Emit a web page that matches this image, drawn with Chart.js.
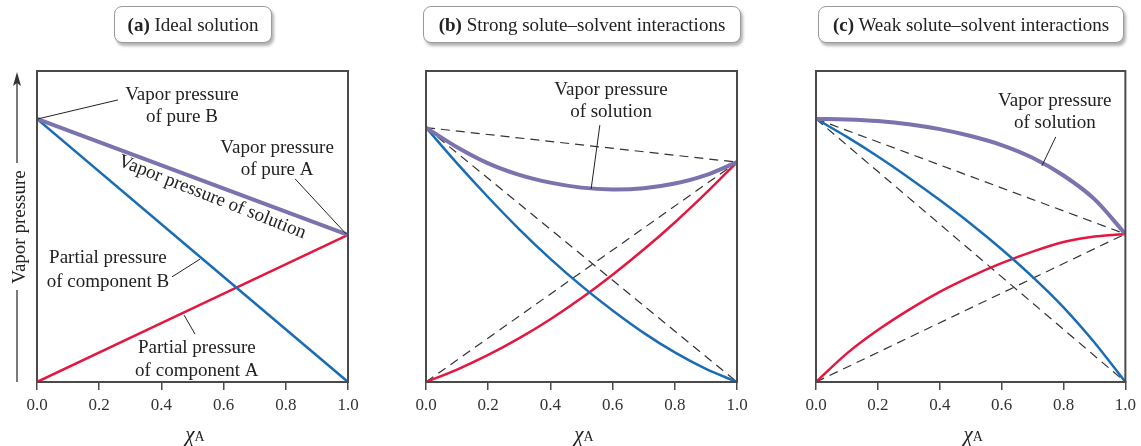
<!DOCTYPE html>
<html>
<head>
<meta charset="utf-8">
<script src="https://cdn.jsdelivr.net/npm/chart.js@4.4.1/dist/chart.umd.min.js"></script>
<style>
  html, body { margin: 0; padding: 0; background: #fff; }
  #wrap { position: relative; width: 1141px; height: 446px; overflow: hidden; }
  .panel { position: absolute; top: 0; height: 446px; }
  .titel {
    position: absolute; top: 6px; height: 37px; line-height: 36px;
    border: 1px solid #9a9a9a; border-radius: 8px; background: #fff;
    box-shadow: 2px 3px 3px rgba(0,0,0,0.3);
    font-family: "Liberation Serif", serif; font-size: 19px; color: #222;
    text-align: center; box-sizing: border-box; white-space: nowrap;
  }
</style>
</head>
<body>
<div id="wrap">
  <div class="panel" style="left:0;width:380px"><canvas id="diagramA"></canvas></div>
  <div class="panel" style="left:390px;width:380px"><canvas id="diagramB"></canvas></div>
  <div class="panel" style="left:770px;width:371px"><canvas id="diagramC"></canvas></div>
  <div class="titel" style="left:114px;width:158px"><b>(a)</b> Ideal solution</div>
  <div class="titel" style="left:423px;width:318px"><b>(b)</b> Strong solute–solvent interactions</div>
  <div class="titel" style="left:818px;width:306px"><b>(c)</b> Weak solute–solvent interactions</div>
</div>
<script>
// Molbråk för A (x-axeln)
const molbrak = [0, 0.1, 0.2, 0.3, 0.4, 0.5, 0.6, 0.7, 0.8, 0.9, 1.0];
const andpunkter = [0, 1];
const xTicks = ['0.0', '0.2', '0.4', '0.6', '0.8', '1.0'];

// (a) ideal lösning - raka linjer
const idealTotal = [0.846, 0.473];
const idealB = [0.846, 0];
const idealA = [0, 0.473];

// (b) starka interaktioner
const starkTotal = [0.818, 0.755, 0.703, 0.666, 0.641, 0.625, 0.619, 0.623, 0.638, 0.665, 0.707];
const starkB = [0.818, 0.703, 0.594, 0.491, 0.396, 0.309, 0.230, 0.158, 0.095, 0.042, 0];
const starkA = [0, 0.04, 0.087, 0.141, 0.202, 0.270, 0.345, 0.426, 0.513, 0.607, 0.707];
const starkIdealTotal = [0.818, 0.707];
const starkIdealB = [0.818, 0];
const starkIdealA = [0, 0.707];

// (c) svaga interaktioner
const svagTotal = [0.846, 0.844, 0.839, 0.829, 0.813, 0.791, 0.762, 0.721, 0.664, 0.588, 0.476];
const svagB = [0.846, 0.788, 0.725, 0.657, 0.585, 0.509, 0.427, 0.338, 0.240, 0.127, 0];
const svagA = [0, 0.092, 0.167, 0.232, 0.29, 0.339, 0.382, 0.419, 0.450, 0.468, 0.476];
const svagIdealTotal = [0.846, 0.476];
const svagIdealB = [0.846, 0];
const svagIdealA = [0, 0.476];

const LILA = '#7b72ae';
const BLA = '#1b6db3';
const ROD = '#e3173f';
const RAM = '#4a4a4a';
const SERIF = '"Liberation Serif", "DejaVu Serif", serif';

function punkter(xs, ys) {
  return xs.map((x, i) => ({ x: x, y: ys[i] }));
}

function linje(xs, ys, farg, bredd, ordning) {
  return {
    data: punkter(xs, ys), borderColor: farg, borderWidth: bredd,
    pointRadius: 0, fill: false, tension: 0.3, order: ordning
  };
}

function streckad(xs, ys) {
  return {
    data: punkter(xs, ys), borderColor: '#333', borderWidth: 1.2, borderDash: [9, 6],
    pointRadius: 0, fill: false, order: 5
  };
}

// Plugin som ritar ramen, etiketter, hänvisningslinjer och axeltitel
const anteckningar = {
  id: 'anteckningar',
  afterDraw(chart) {
    const ctx = chart.ctx;
    const a = chart.chartArea;
    const xs = chart.scales.x, ys = chart.scales.y;
    const opt = chart.options.plugins.anteckningar || {};
    ctx.save();
    // ram
    ctx.strokeStyle = RAM;
    ctx.lineWidth = 2;
    ctx.strokeRect(a.left, a.top, a.right - a.left, a.bottom - a.top);

    // hänvisningslinjer
    ctx.strokeStyle = '#222';
    ctx.lineWidth = 1;
    (opt.linjer || []).forEach(l => {
      ctx.beginPath();
      ctx.moveTo(xs.getPixelForValue(l[0]), ys.getPixelForValue(l[1]));
      ctx.lineTo(xs.getPixelForValue(l[2]), ys.getPixelForValue(l[3]));
      ctx.stroke();
    });

    // texter
    ctx.fillStyle = '#222';
    ctx.font = '19px ' + SERIF;
    ctx.textAlign = 'center';
    ctx.textBaseline = 'middle';
    (opt.texter || []).forEach(t => {
      const px = xs.getPixelForValue(t.x);
      t.rader.forEach((rad, i) => {
        ctx.fillText(rad, px, ys.getPixelForValue(t.y[i]));
      });
    });
    (opt.roterad || []).forEach(t => {
      ctx.save();
      ctx.translate(xs.getPixelForValue(t.x), ys.getPixelForValue(t.y));
      ctx.rotate(t.vinkel * Math.PI / 180);
      ctx.fillText(t.text, 0, 0);
      ctx.restore();
    });

    // axeltitel χA
    const cx = (a.left + a.right) / 2;
    ctx.font = 'italic 21px ' + SERIF;
    ctx.textAlign = 'right';
    ctx.textBaseline = 'alphabetic';
    ctx.fillText('χ', cx + 2, 441);
    ctx.font = '14px ' + SERIF;
    ctx.textAlign = 'left';
    ctx.fillText('A', cx + 2, 441);

    // y-axelns titel med pil (bara panel a)
    if (opt.yTitel) {
      ctx.strokeStyle = '#333';
      ctx.fillStyle = '#333';
      ctx.lineWidth = 1.3;
      ctx.beginPath();
      ctx.moveTo(17, a.bottom); ctx.lineTo(17, 290);
      ctx.moveTo(17, 163); ctx.lineTo(17, 82);
      ctx.stroke();
      ctx.beginPath();
      ctx.moveTo(17, 72); ctx.lineTo(13, 86); ctx.lineTo(17, 83); ctx.lineTo(21, 86);
      ctx.closePath(); ctx.fill();
      ctx.save();
      ctx.translate(20, 227);
      ctx.rotate(-Math.PI / 2);
      ctx.fillStyle = '#222';
      ctx.font = '19px ' + SERIF;
      ctx.textAlign = 'center';
      ctx.textBaseline = 'middle';
      ctx.fillText('Vapor pressure', 0, 0);
      ctx.restore();
    }
    ctx.restore();
  }
};

function skapaDiagram(id, dataset, vanster, hoger, anteckn) {
  return new Chart(document.getElementById(id).getContext('2d'), {
    type: 'line',
    data: { datasets: dataset },
    plugins: [anteckningar],
    options: {
      responsive: true,
      maintainAspectRatio: false,
      animation: false,
      layout: { padding: { left: vanster, right: hoger, top: 71, bottom: 0 } },
      plugins: { legend: { display: false }, tooltip: { enabled: false }, anteckningar: anteckn },
      scales: {
        x: {
          type: 'linear', min: 0, max: 1,
          afterFit(scale) { scale.height = 64; },
          afterBuildTicks(scale) { scale.ticks = xTicks.map(v => ({ value: parseFloat(v) })); },
          ticks: {
            padding: 5, color: '#333',
            font: { family: SERIF, size: 17 },
            callback: v => v.toFixed(1)
          },
          grid: { drawOnChartArea: false, drawTicks: true, tickLength: 8, color: RAM, lineWidth: 1.5 },
          border: { display: true, color: RAM, width: 2 }
        },
        y: { type: 'linear', min: 0, max: 1, display: false }
      }
    }
  });
}

skapaDiagram('diagramA', [
  linje(andpunkter, idealTotal, LILA, 4, 1),
  linje(andpunkter, idealB, BLA, 2.5, 2),
  linje(andpunkter, idealA, ROD, 2.5, 3)
], 37, 32, {
  yTitel: true,
  texter: [
    { x: 0.466, y: [0.923, 0.852], rader: ['Vapor pressure', 'of pure B'] },
    { x: 0.772, y: [0.752, 0.682], rader: ['Vapor pressure', 'of pure A'] },
    { x: 0.228, y: [0.399, 0.322], rader: ['Partial pressure', 'of component B'] },
    { x: 0.514, y: [0.109, 0.035], rader: ['Partial pressure', 'of component A'] }
  ],
  roterad: [{ x: 0.563, y: 0.594, vinkel: 21.5, text: 'Vapor pressure of solution' }],
  linjer: [
    [0.003, 0.846, 0.26, 0.907],
    [0.83, 0.653, 0.994, 0.476],
    [0.434, 0.338, 0.524, 0.395],
    [0.473, 0.215, 0.508, 0.154]
  ]
});

skapaDiagram('diagramB', [
  linje(molbrak, starkTotal, LILA, 4, 1),
  linje(molbrak, starkB, BLA, 2.5, 2),
  linje(molbrak, starkA, ROD, 2.5, 3),
  streckad(andpunkter, starkIdealTotal),
  streckad(andpunkter, starkIdealB),
  streckad(andpunkter, starkIdealA)
], 36, 33, {
  texter: [{ x: 0.595, y: [0.939, 0.868], rader: ['Vapor pressure', 'of solution'] }],
  linjer: [[0.559, 0.826, 0.531, 0.621]]
});

skapaDiagram('diagramC', [
  linje(molbrak, svagTotal, LILA, 4, 1),
  linje(molbrak, svagB, BLA, 2.5, 2),
  linje(molbrak, svagA, ROD, 2.5, 3),
  streckad(andpunkter, svagIdealTotal),
  streckad(andpunkter, svagIdealB),
  streckad(andpunkter, svagIdealA)
], 46, 15, {
  texter: [{ x: 0.772, y: [0.904, 0.833], rader: ['Vapor pressure', 'of solution'] }],
  linjer: [[0.775, 0.788, 0.730, 0.695]]
});
</script>
</body>
</html>
